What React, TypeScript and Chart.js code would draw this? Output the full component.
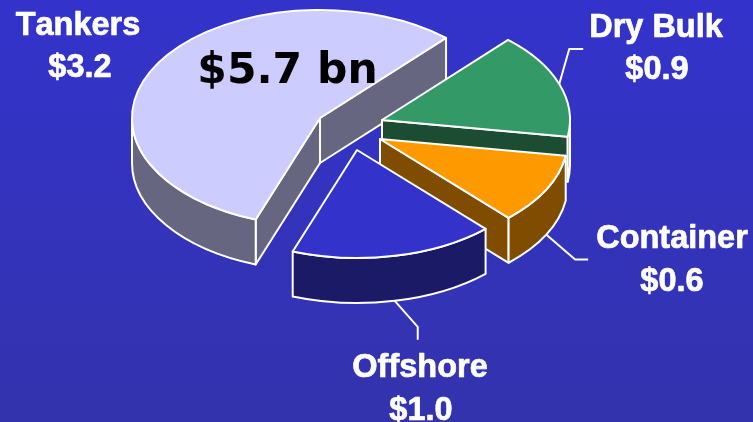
import React, { useEffect, useRef } from "react";
import { Chart, registerables } from "chart.js";

Chart.register(...registerables);

const categories = ["Tankers", "Dry Bulk", "Container", "Offshore"];
const values = [3.2, 0.9, 0.6, 1.0];
const valueLabels = ["$3.2", "$0.9", "$0.6", "$1.0"];
const totalLabel = "$5.7 bn";
const topColors = ["#CCCCFF", "#339966", "#FF9900", "#3333CC"];
const wallColors = ["#666680", "#1C4D33", "#804D00", "#1A1A66"];

// Presentation of the exploded, tilted pie
const RADIUS = 188;
const TILT = 0.5745;
const DEPTH = 45;
const PIE_X = 320;
const PIE_Y = 117;
const EXPLODE_X = [0, 62, 60, 37];
const EXPLODE_Y = [1, 3, 22, 33];
const LABEL_X = [78, 656, 672, 420];
const LABEL_BASE = [35, 37, 248, 377];
const VALUE_X = [80, 657, 672, 421];
const VALUE_BASE = [77, 79, 291, 420];
// leader bends relative to the slice anchor: [dx1, dy1, dx2, dy2]
const LEADERS: (number[] | null)[] = [null, [10, -35, 24, -35], [29, 25, 42, 25], [23, 26, 23, 39]];

const TAU = Math.PI * 2;

function outerVisible(a: number, b: number): [number, number] | null {
  for (let n = -1; n <= 2; n++) {
    const lo = Math.max(a, n * TAU);
    const hi = Math.min(b, n * TAU + Math.PI);
    if (hi > lo) return [lo, hi];
  }
  return null;
}

function screenY(y: number) {
  return PIE_Y + (y - PIE_Y) * TILT;
}

const pie3d = {
  id: "pie3d",
  afterDatasetsUpdate(chart: any) {
    chart.getDatasetMeta(0).data.forEach((arc: any, i: number) => {
      arc.x = PIE_X + EXPLODE_X[i];
      arc.y = PIE_Y + EXPLODE_Y[i] / TILT;
    });
  },
  beforeDraw(chart: any) {
    const { ctx, width, height } = chart;
    const g = ctx.createLinearGradient(0, 0, 0, height);
    g.addColorStop(0, "#3333CC");
    g.addColorStop(1, "#3333AD");
    ctx.save();
    ctx.fillStyle = g;
    ctx.fillRect(0, 0, width, height);
    ctx.restore();
  },
  beforeDatasetsDraw(chart: any) {
    const { ctx } = chart;
    const arcs = chart.getDatasetMeta(0).data;
    ctx.save();
    ctx.strokeStyle = "#FFFFFF";
    ctx.lineWidth = 2;
    ctx.lineJoin = "round";
    arcs.forEach((arc: any, i: number) => {
      const sx = arc.x;
      const sy = screenY(arc.y);
      const rx = arc.outerRadius;
      const ry = rx * TILT;
      const a = arc.startAngle;
      const b = arc.endAngle;
      ctx.fillStyle = wallColors[i];
      const face = (ang: number) => {
        const px = sx + rx * Math.cos(ang);
        const py = sy + ry * Math.sin(ang);
        ctx.beginPath();
        ctx.moveTo(sx, sy);
        ctx.lineTo(px, py);
        ctx.lineTo(px, py + DEPTH);
        ctx.lineTo(sx, sy + DEPTH);
        ctx.closePath();
        ctx.fill();
        ctx.stroke();
      };
      if (Math.cos(a) < 0) face(a);
      if (Math.cos(b) > 0) face(b);
      const vis = outerVisible(a, b);
      if (vis) {
        ctx.beginPath();
        ctx.ellipse(sx, sy, rx, ry, 0, vis[0], vis[1]);
        ctx.ellipse(sx, sy + DEPTH, rx, ry, 0, vis[1], vis[0], true);
        ctx.closePath();
        ctx.fill();
        ctx.stroke();
      }
    });
    ctx.restore();
    ctx.save();
    ctx.translate(0, PIE_Y);
    ctx.scale(1, TILT);
    ctx.translate(0, -PIE_Y);
  },
  afterDatasetsDraw(chart: any) {
    const { ctx } = chart;
    ctx.restore();
    const arcs = chart.getDatasetMeta(0).data;
    ctx.save();
    ctx.strokeStyle = "#FFFFFF";
    ctx.lineWidth = 2;
    ctx.lineJoin = "round";
    arcs.forEach((arc: any, i: number) => {
      const sx = arc.x;
      const sy = screenY(arc.y);
      const rx = arc.outerRadius;
      const ry = rx * TILT;
      ctx.beginPath();
      ctx.moveTo(sx, sy);
      ctx.ellipse(sx, sy, rx, ry, 0, arc.startAngle, arc.endAngle);
      ctx.closePath();
      ctx.stroke();

      const lead = LEADERS[i];
      if (lead) {
        const mid = (arc.startAngle + arc.endAngle) / 2;
        const ax = sx + rx * Math.cos(mid);
        const s = Math.sin(mid);
        const ay = sy + ry * s + (s > 0 ? DEPTH : 0);
        ctx.beginPath();
        ctx.moveTo(ax, ay);
        ctx.lineTo(ax + lead[0], ay + lead[1]);
        ctx.lineTo(ax + lead[2], ay + lead[3]);
        ctx.stroke();
      }
    });
    ctx.restore();

    ctx.save();
    ctx.textAlign = "center";
    ctx.textBaseline = "alphabetic";
    ctx.fontKerning = "none";
    ctx.fillStyle = "#FFFFFF";
    ctx.strokeStyle = "#FFFFFF";
    ctx.lineWidth = 0.7;
    ctx.lineJoin = "round";
    ctx.font = 'bold 32.5px "Liberation Sans", Arial, sans-serif';
    categories.forEach((name, i) => {
      ctx.fillText(name, LABEL_X[i], LABEL_BASE[i]);
      ctx.strokeText(name, LABEL_X[i], LABEL_BASE[i]);
      ctx.fillText(valueLabels[i], VALUE_X[i], VALUE_BASE[i]);
      ctx.strokeText(valueLabels[i], VALUE_X[i], VALUE_BASE[i]);
    });
    ctx.fillStyle = "#000000";
    ctx.font = 'bold 42.5px "DejaVu Sans", sans-serif';
    ctx.fillText(totalLabel, 287.5, 83);
    ctx.restore();
  },
};

export default function App() {
  const ref = useRef<HTMLCanvasElement | null>(null);
  useEffect(() => {
    document.body.style.margin = "0";
    const chart = new Chart(ref.current as HTMLCanvasElement, {
      type: "pie",
      data: {
        labels: categories,
        datasets: [
          {
            data: values,
            backgroundColor: topColors,
            borderWidth: 0,
            clip: false,
          } as any,
        ],
      },
      options: {
        responsive: false,
        animation: false,
        events: [],
        rotation: 200,
        radius: RADIUS,
        plugins: { legend: { display: false }, tooltip: { enabled: false } },
      },
      plugins: [pie3d],
    } as any);
    return () => chart.destroy();
  }, []);
  return <canvas ref={ref} width={753} height={422} style={{ display: "block" }} />;
}
